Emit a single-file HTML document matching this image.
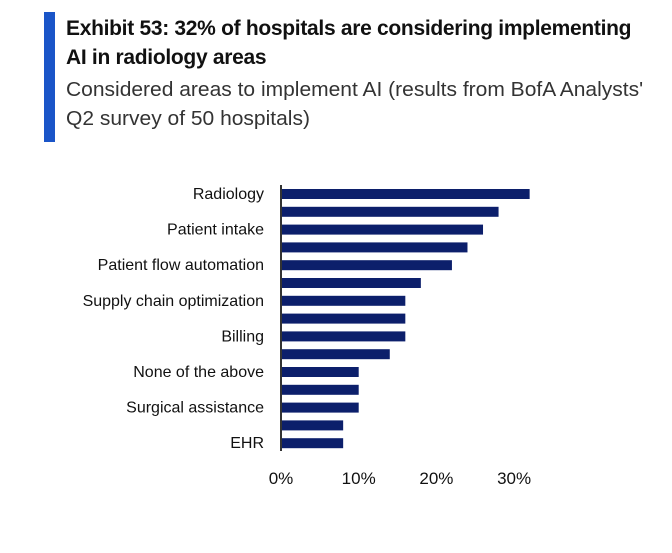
<!DOCTYPE html>
<html><head><meta charset="utf-8"><style>
body{margin:0;background:#fff;width:672px;height:553px;overflow:hidden;font-family:"Liberation Sans",sans-serif}
.stripe{position:absolute;left:44px;top:12px;width:11px;height:130px;background:#1a55c8}
.t{position:absolute;left:66px;top:14px;font-size:21px;font-weight:bold;color:#111;line-height:29px;letter-spacing:-0.3px;transform:scaleX(1.0);transform-origin:left;white-space:nowrap}
.s{position:absolute;left:66px;top:76px;font-size:20px;color:#333;line-height:29px;transform:scaleX(1.05);transform-origin:left;white-space:nowrap}
</style></head><body>
<div class="stripe"></div>
<div class="t">Exhibit 53: 32% of hospitals are considering implementing<br>AI in radiology areas</div>
<div class="s">Considered areas to implement AI (results from BofA Analysts'<br>Q2 survey of 50 hospitals)</div>
<svg id="c" width="672" height="553" style="position:absolute;left:0;top:0"></svg>
<script>
const categories=["Radiology","","Patient intake","","Patient flow automation","","Supply chain optimization","","Billing","","None of the above","","Surgical assistance","","EHR"];
const values=[32,28,26,24,22,18,16,16,16,14,10,10,10,8,8];
const ticks=[0,10,20,30];
const tickLabels=["0%","10%","20%","30%"];
const ns="http://www.w3.org/2000/svg",svg=document.getElementById('c');
const x=v=>281+v*7.77, y=i=>194+i*17.8;
function mk(t,a){const e=document.createElementNS(ns,t);for(const k in a)e.setAttribute(k,a[k]);svg.appendChild(e);return e;}
values.forEach((v,i)=>{
 const r=mk('rect',{x:x(0),y:y(i)-5,width:x(v)-x(0),height:10,fill:'#0c1f6b'});
 
 
 if(categories[i]){const t=mk('text',{x:264,y:y(i)+5,'text-anchor':'end','font-size':16,fill:'#111',textLength:0});t.removeAttribute('textLength');t.textContent=categories[i];
 
 }
});
const ax=mk('line',{x1:281,x2:281,y1:185,y2:451,stroke:'#333','stroke-width':2});


ticks.forEach((v,i)=>{const t=mk('text',{x:x(v),y:484,'text-anchor':'middle','font-size':17,fill:'#111'});t.textContent=tickLabels[i];
 
 });
</script>
</body></html>
